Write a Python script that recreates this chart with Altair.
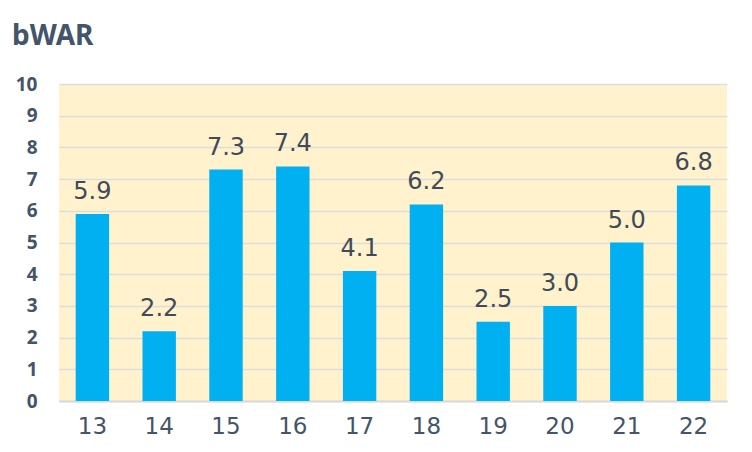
import altair as alt
import pandas as pd

seasons = ["13", "14", "15", "16", "17", "18", "19", "20", "21", "22"]
bwar = [5.9, 2.2, 7.3, 7.4, 4.1, 6.2, 2.5, 3.0, 5.0, 6.8]
y_ticks = [0, 1, 2, 3, 4, 5, 6, 7, 8, 9, 10]

df = pd.DataFrame({"season": seasons, "bwar": bwar})
df["label"] = [f"{v:.1f}" for v in bwar]

FONT = "Noto Sans"
FONT2 = "DejaVu Sans"
SLATE = "#44546A"

x_enc = alt.X(
    "season:N",
    sort=seasons,
    title=None,
    scale=alt.Scale(paddingInner=0.5, paddingOuter=0.25),
    axis=alt.Axis(
        labelAngle=0,
        labelFont=FONT2,
        labelFontSize=23,
        labelColor=SLATE,
        labelPadding=14,
        ticks=False,
        domain=True,
        domainColor="#D9D9D9",
        domainWidth=2,
        grid=False,
    ),
)

y_enc = alt.Y(
    "bwar:Q",
    title=None,
    scale=alt.Scale(domain=[0, 10], nice=False),
    axis=alt.Axis(
        values=y_ticks,
        labelFont=FONT,
        labelFontSize=19,
        labelFontWeight="bold",
        labelColor=SLATE,
        labelPadding=22,
        labelOverlap=False,
        ticks=False,
        domain=False,
        grid=True,
        gridColor="#DDDDDD",
        gridWidth=1.5,
    ),
)

base = alt.Chart(df)

bars = base.mark_bar(color="#00B0F0").encode(x=x_enc, y=y_enc)

labels = base.mark_text(
    font=FONT2,
    fontSize=24,
    color="#404A59",
    baseline="alphabetic",
    dy=-15,
).encode(x=x_enc, y=y_enc, text="label:N")

chart = (
    alt.layer(bars, labels)
    .properties(
        width=668,
        height=317,
        background="white",
        padding={"left": 51, "top": 76, "right": 17, "bottom": 43},
        autosize=alt.AutoSizeParams(type="none"),
        title=alt.TitleParams(
            "bWAR",
            anchor="start",
            frame="group",
            font=FONT,
            fontSize=28,
            fontWeight="bold",
            color=SLATE,
            baseline="alphabetic",
            offset=2,
            dx=-47,
        ),
    )
    .configure_view(fill="#FFF2CC", stroke=None)
)

chart.save("out.html", embed_options={"renderer": "svg", "actions": False})
